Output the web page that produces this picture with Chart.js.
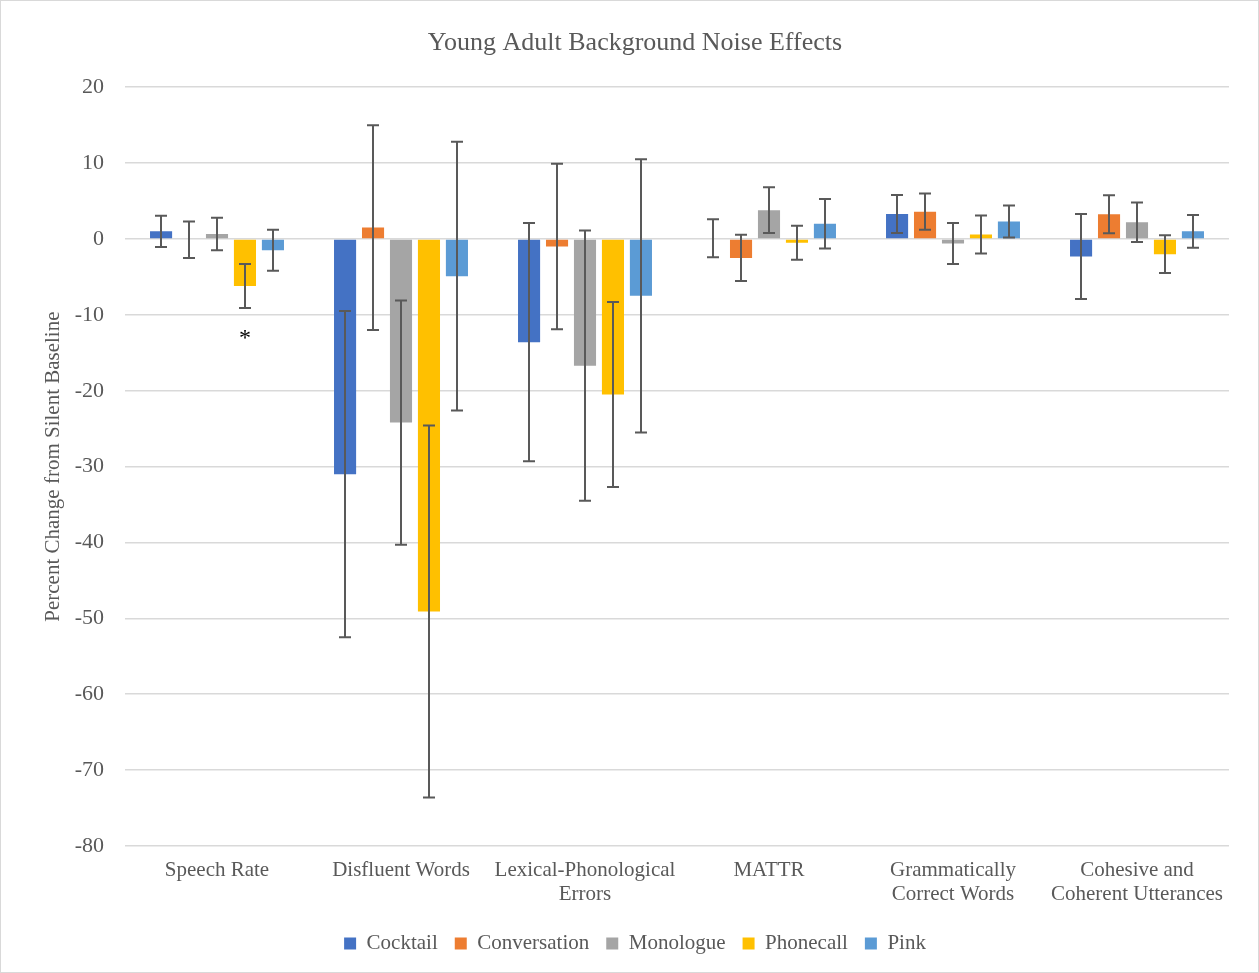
<!DOCTYPE html>
<html>
<head>
<meta charset="utf-8">
<script src="https://cdn.jsdelivr.net/npm/chart.js@4.4.1/dist/chart.umd.min.js"></script>
<style>
  html, body { margin: 0; padding: 0; background: #ffffff; }
  #wrap { position: relative; width: 1259px; height: 973px; box-sizing: border-box; border: 1px solid #d9d9d9; }
  canvas { display: block; }
</style>
</head>
<body>
<div id="wrap"><canvas id="c" width="1257" height="971"></canvas></div>
<script>
// ---- Data ----
const categories = [
  ['Speech Rate'],
  ['Disfluent Words'],
  ['Lexical-Phonological', 'Errors'],
  ['MATTR'],
  ['Grammatically', 'Correct Words'],
  ['Cohesive and', 'Coherent Utterances']
];
const seriesNames = ['Cocktail', 'Conversation', 'Monologue', 'Phonecall', 'Pink'];

const cocktail     = [1.0, -31.0, -13.6, 0.1, 3.3, -2.3];
const conversation = [-0.1, 1.5, -1.0, -2.5, 3.6, 3.25];
const monologue    = [0.65, -24.2, -16.7, 3.8, -0.6, 2.2];
const phonecall    = [-6.2, -49.1, -20.5, -0.5, 0.6, -2.0];
const pink         = [-1.5, -4.9, -7.5, 2.0, 2.3, 1.0];

const cocktailErr     = [2.05, 21.5, 15.7, 2.5, 2.5, 5.6];
const conversationErr = [2.4, 13.5, 10.9, 3.05, 2.4, 2.5];
const monologueErr    = [2.15, 16.1, 17.8, 3.0, 2.7, 2.6];
const phonecallErr    = [2.9, 24.5, 12.2, 2.25, 2.5, 2.5];
const pinkErr         = [2.7, 17.7, 18.0, 3.25, 2.1, 2.15];

const yTicks = [20, 10, 0, -10, -20, -30, -40, -50, -60, -70, -80];
const significance = [{ category: 0, series: 3, mark: '*' }];

const colors = ['#4472C4', '#ED7D31', '#A5A5A5', '#FFC000', '#5B9BD5'];
const values = [cocktail, conversation, monologue, phonecall, pink];
const errors = [cocktailErr, conversationErr, monologueErr, phonecallErr, pinkErr];

const FONT = "'Liberation Serif', 'Times New Roman', serif";
const TXT = '#595959';

const errorBarPlugin = {
  id: 'errorBars',
  afterDatasetsDraw(chart) {
    const ctx = chart.ctx;
    const ys = chart.scales.y;
    ctx.save();
    ctx.strokeStyle = '#595959';
    ctx.lineWidth = 2;
    chart.data.datasets.forEach((ds, di) => {
      const meta = chart.getDatasetMeta(di);
      meta.data.forEach((el, i) => {
        const v = ds.data[i], e = ds.errors[i];
        const top = ys.getPixelForValue(v + e);
        const bot = ys.getPixelForValue(v - e);
        const x = Math.round(el.x);
        ctx.beginPath();
        ctx.moveTo(x, top); ctx.lineTo(x, bot);
        ctx.moveTo(x - 6, top); ctx.lineTo(x + 6, top);
        ctx.moveTo(x - 6, bot); ctx.lineTo(x + 6, bot);
        ctx.stroke();
      });
    });
    // significance markers
    ctx.fillStyle = '#000000';
    ctx.font = '24px ' + FONT;
    ctx.textAlign = 'center';
    ctx.textBaseline = 'alphabetic';
    significance.forEach(s => {
      const ds = chart.data.datasets[s.series];
      const el = chart.getDatasetMeta(s.series).data[s.category];
      const bot = ys.getPixelForValue(ds.data[s.category] - ds.errors[s.category]);
      ctx.fillText(s.mark, el.x, bot + 37);
    });
    ctx.restore();
  }
};

new Chart(document.getElementById('c'), {
  type: 'bar',
  data: {
    labels: categories,
    datasets: seriesNames.map((n, i) => ({
      label: n,
      data: values[i],
      errors: errors[i],
      backgroundColor: colors[i],
      borderWidth: 0,
      categoryPercentage: 0.76,
      barPercentage: 0.79
    }))
  },
  options: {
    responsive: false,
    animation: false,
    devicePixelRatio: 1,
    layout: { padding: { top: 10, left: 40, right: 29, bottom: 8 } },
    plugins: {
      title: {
        display: true,
        text: 'Young Adult Background Noise Effects',
        color: TXT,
        font: { family: FONT, size: 26, weight: 'normal' },
        padding: { top: 17, bottom: 28 }
      },
      legend: {
        position: 'bottom',
        labels: {
          color: TXT,
          font: { family: FONT, size: 21 },
          boxWidth: 12,
          boxHeight: 12,
          padding: 17
        }
      },
      tooltip: { enabled: false }
    },
    scales: {
      x: {
        grid: { display: false, drawTicks: false },
        border: { display: false },
        ticks: {
          color: TXT,
          font: { family: FONT, size: 21, lineHeight: 1.143 },
          padding: 12,
          maxRotation: 0,
          autoSkip: false
        },
        afterFit(scale) { scale.height = 70; }
      },
      y: {
        min: -80,
        max: 20,
        afterBuildTicks(scale) { scale.ticks = yTicks.map(v => ({ value: v })); },
        grid: { color: '#D9D9D9', lineWidth: 1.5, drawTicks: false },
        border: { display: false },
        ticks: {
          color: TXT,
          font: { family: FONT, size: 22 },
          padding: 21
        },
        title: {
          display: true,
          text: 'Percent Change from Silent Baseline',
          color: TXT,
          font: { family: FONT, size: 21 },
          padding: 0
        },
        afterFit(scale) { scale.width = 84; }
      }
    }
  },
  plugins: [errorBarPlugin]
});
</script>
</body>
</html>
